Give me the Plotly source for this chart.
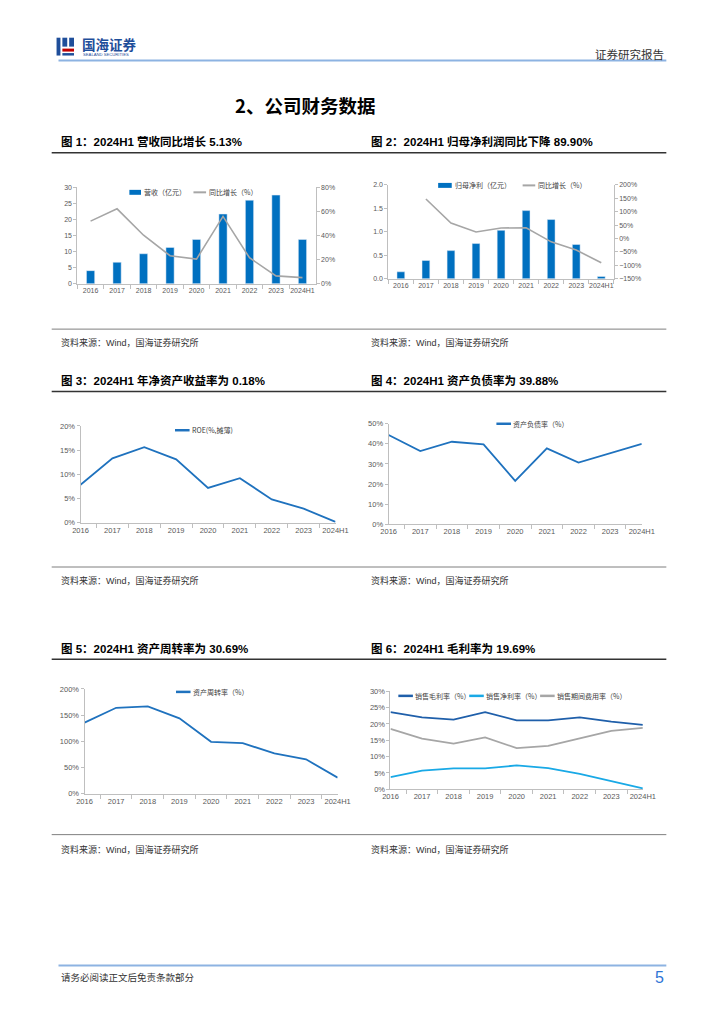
import plotly.graph_objects as go

W, H = 724, 1024

# ---------------- data ----------------
cats = ["2016", "2017", "2018", "2019", "2020", "2021", "2022", "2023", "2024H1"]
revenue = [4.1, 6.7, 9.35, 11.3, 13.8, 21.7, 26.0, 27.6, 13.8]          # 营收（亿元）
revenue_yoy = [52.0, 62.2, 40.3, 23.3, 20.5, 55.9, 21.6, 6.6, 5.13]     # 同比增长（%）
netprofit = [0.15, 0.39, 0.60, 0.75, 1.03, 1.45, 1.26, 0.73, 0.05]      # 归母净利（亿元）
netprofit_yoy = [None, 147, 57.5, 24, 39, 40, -12.5, -43, -89.9]        # 同比增长（%）
roe = [7.85, 13.3, 15.6, 13.1, 7.2, 9.2, 4.8, 2.9, 0.18]                # ROE(%,摊薄)
debt_ratio = [44.3, 36.4, 41.0, 39.7, 21.6, 37.7, 30.7, 35.2, 39.88]    # 资产负债率（%）
asset_turnover = [135.6, 164, 166.6, 143.9, 99, 96.5, 77, 65.6, 30.69]  # 资产周转率（%）
gross_margin = [23.6, 22.0, 21.3, 23.6, 21.1, 21.1, 22.0, 20.7, 19.69]  # 销售毛利率（%）
net_margin = [3.7, 5.7, 6.4, 6.4, 7.3, 6.5, 4.7, 2.5, 0.3]              # 销售净利率（%）
expense_ratio = [18.5, 15.5, 14.0, 15.9, 12.6, 13.3, 15.6, 17.9, 18.8]  # 销售期间费用率（%）

# ---------------- helpers ----------------
def X(px):
    return px / W

def Y(py):
    return 1 - py / H

LAT = "Liberation Sans, Arial, Noto Sans CJK SC"
CJK = "Noto Sans CJK SC, Liberation Sans"
AXC = "#BFBFBF"
TXC = "#595959"
BLUE_BAR = "#0070C0"
BLUE_LINE = "#1F72BE"
GRAY_LINE = "#A6A6A6"

fig = go.Figure()

fig.add_trace(go.Bar(x=cats, y=revenue, marker_color=BLUE_BAR, xaxis="x", yaxis="y", showlegend=False))
fig.add_trace(go.Scatter(x=cats, y=revenue_yoy, mode="lines", line=dict(color=GRAY_LINE, width=1.6),
                         xaxis="x", yaxis="y7", showlegend=False))
fig.add_trace(go.Bar(x=cats, y=netprofit, marker_color=BLUE_BAR, xaxis="x2", yaxis="y2", showlegend=False))
fig.add_trace(go.Scatter(x=cats, y=netprofit_yoy, mode="lines", line=dict(color=GRAY_LINE, width=1.6),
                         xaxis="x2", yaxis="y8", showlegend=False))
fig.add_trace(go.Scatter(x=cats, y=roe, mode="lines", line=dict(color=BLUE_LINE, width=1.8),
                         xaxis="x3", yaxis="y3", showlegend=False))
fig.add_trace(go.Scatter(x=cats, y=debt_ratio, mode="lines", line=dict(color=BLUE_LINE, width=1.8),
                         xaxis="x4", yaxis="y4", showlegend=False))
fig.add_trace(go.Scatter(x=cats, y=asset_turnover, mode="lines", line=dict(color=BLUE_LINE, width=1.8),
                         xaxis="x5", yaxis="y5", showlegend=False))
fig.add_trace(go.Scatter(x=cats, y=gross_margin, mode="lines", line=dict(color="#1F5FAA", width=1.8),
                         xaxis="x6", yaxis="y6", showlegend=False))
fig.add_trace(go.Scatter(x=cats, y=net_margin, mode="lines", line=dict(color="#19A9E6", width=1.8),
                         xaxis="x6", yaxis="y6", showlegend=False))
fig.add_trace(go.Scatter(x=cats, y=expense_ratio, mode="lines", line=dict(color=GRAY_LINE, width=1.8),
                         xaxis="x6", yaxis="y6", showlegend=False))

def tickfont(size=7.5):
    return dict(family=LAT, size=size, color=TXC)

def xax(x0, x1, anchor, size=7.5):
    return dict(domain=[X(x0), X(x1)], anchor=anchor, type="category", showline=True,
                linecolor=AXC, linewidth=1, ticks="outside", tickson="boundaries", ticklen=4,
                tickcolor=AXC, showgrid=False, zeroline=False, tickfont=tickfont(size),
                tickangle=0, fixedrange=True)

def yax(y0, y1, anchor, rng, dtick, suffix="", fmt=None, side="left", overlay=None, size=7.5):
    d = dict(anchor=anchor, range=rng, dtick=dtick, tick0=rng[0], showline=True, linecolor=AXC,
             linewidth=1, ticks="outside", ticklen=3, tickcolor=AXC, showgrid=False,
             zeroline=False, tickfont=tickfont(size), ticksuffix=suffix, side=side, fixedrange=True)
    if fmt:
        d["tickformat"] = fmt
    if overlay:
        d["overlaying"] = overlay
    else:
        d["domain"] = [Y(y1), Y(y0)]
    return d

layout = dict(
    width=W, height=H, margin=dict(l=0, r=0, t=0, b=0),
    paper_bgcolor="white", plot_bgcolor="rgba(0,0,0,0)",
    bargap=0.69, showlegend=False,
    xaxis=xax(71.4, 316.9, "y", size=7),
    yaxis=yax(185, 282.3, "x", [0, 30], 5, size=7),
    yaxis7=yax(0, 0, "x", [0, 80], 20, suffix="%", side="right", overlay="y", size=7),
    xaxis2=xax(391.7, 623.9, "y2", size=7),
    yaxis2=yax(182.3, 277.3, "x2", [0, 2.0], 0.5, fmt=".1f", size=7),
    yaxis8=yax(0, 0, "x2", [-150, 200], 50, suffix="%", side="right", overlay="y2", size=7),
    xaxis3=xax(74.7, 337.3, "y3"),
    yaxis3=yax(425.7, 523.3, "x3", [0, 20], 5, suffix="%"),
    xaxis4=xax(392, 652.7, "y4"),
    yaxis4=yax(423.3, 525, "x4", [0, 50], 10, suffix="%"),
    xaxis5=xax(78.8, 339.5, "y5"),
    yaxis5=yax(691, 796.7, "x5", [0, 200], 50, suffix="%"),
    xaxis6=xax(393.9, 653.8, "y6"),
    yaxis6=yax(693.3, 792.3, "x6", [0, 30], 5, suffix="%"),
)
fig.update_layout(**layout)

shapes = []
annots = []

def text(x, y, s, size, color="#000000", family=CJK, xanchor="left", bold=False):
    if bold:
        s = "<b>" + s + "</b>"
    annots.append(dict(x=X(x), y=Y(y), xref="paper", yref="paper", text=s, showarrow=False,
                       xanchor=xanchor, yanchor="middle", font=dict(size=size, color=color, family=family)))

def hline(x0, x1, y, color, width):
    shapes.append(dict(type="line", xref="paper", yref="paper", x0=X(x0), x1=X(x1), y0=Y(y), y1=Y(y),
                       line=dict(color=color, width=width)))

def rect(x0, y0, x1, y1, color):
    shapes.append(dict(type="rect", xref="paper", yref="paper", x0=X(x0), x1=X(x1), y0=Y(y1), y1=Y(y0),
                       fillcolor=color, line=dict(width=0)))

# ---------------- page header ----------------
rect(50, 34, 54, 52, "#1F4E9A")
rect(56, 34, 61, 43, "#1F4E9A")
rect(63, 34, 68, 43, "#1F4E9A")
rect(56, 45, 68, 48, "#C00000")
rect(56, 49.5, 68, 52, "#1F4E9A")
text(74, 40, "国海证券", 13.5, color="#1F4E9A", bold=True)
text(75, 50.5, "SEALAND SECURITIES", 4.2, color="#1F4E9A", family=LAT)
text(678, 50, "证券研究报告", 11.5, color="#333333", xanchor="right")
hline(52, 678, 57, "#8DB3E2", 2)

text(306, 102, "2、公司财务数据", 18.5, color="#000000", xanchor="center", bold=True)

# ---------------- section headings / sources ----------------
HF = "Liberation Sans, Noto Sans CJK SC"
rows = [
    (139, 150, 328, 341, "图 1：2024H1 营收同比增长 5.13%", "图 2：2024H1 归母净利润同比下降 89.90%"),
    (380, 391, 568, 582, "图 3：2024H1 年净资产收益率为 0.18%", "图 4：2024H1 资产负债率为 39.88%"),
    (650, 661, 838, 853, "图 5：2024H1 资产周转率为 30.69%", "图 6：2024H1 毛利率为 19.69%"),
]
for hy, ly, sy, ty, t1, t2 in rows:
    text(53, hy, t1, 11.5, color="#000000", family=HF, bold=True)
    text(372, hy, t2, 11.5, color="#000000", family=HF, bold=True)
    hline(45, 678, ly, "#333333", 1.4)
    hline(45, 678, sy, "#7F7F7F", 1)
    text(53, ty, "资料来源：Wind，国海证券研究所", 9, color="#333333", family=HF)
    text(372, ty, "资料来源：Wind，国海证券研究所", 9, color="#333333", family=HF)

# ---------------- manual legends ----------------
LF = 7
LC = "#404040"
# chart 1
rect(125, 187.5, 137, 192.5, BLUE_BAR)
text(138, 190, "营收（亿元）", LF, color=LC)
hline(191, 204, 190, GRAY_LINE, 2)
text(205, 190, "同比增长（%）", LF, color=LC)
# chart 2
rect(443, 180.5, 457, 185.5, BLUE_BAR)
text(458, 183, "归母净利（亿元）", LF, color=LC)
hline(530, 543, 183, GRAY_LINE, 2)
text(544, 183, "同比增长（%）", LF, color=LC)
# chart 3
hline(172, 187, 430, BLUE_LINE, 2.5)
text(187.5, 430, "ROE(%,摊薄)", LF, color=LC)
# chart 4
hline(503, 518, 423.5, BLUE_LINE, 2.5)
text(518.5, 423.5, "资产负债率（%）", LF, color=LC)
# chart 5
hline(173, 188, 694, BLUE_LINE, 2.5)
text(188.5, 694, "资产周转率（%）", LF, color=LC)
# chart 6
hline(402, 417, 698, "#1F5FAA", 2.5)
text(417.5, 698, "销售毛利率（%）", LF, color=LC)
hline(475, 490, 698, "#19A9E6", 2.5)
text(490.5, 698, "销售净利率（%）", LF, color=LC)
hline(548, 563, 698, GRAY_LINE, 2.5)
text(563.5, 698, "销售期间费用率（%）", LF, color=LC)

# ---------------- footer ----------------
hline(52, 678, 970, "#8DB3E2", 2)
text(53, 982, "请务必阅读正文后免责条款部分", 9.5, color="#333333")
text(678, 982, "5", 16, color="#2E75D6", family=LAT, xanchor="right")

fig.update_layout(shapes=shapes, annotations=annots)

fig.write_html("out.html", config={"displayModeBar": False},
               post_script="document.body.style.margin='0';")
